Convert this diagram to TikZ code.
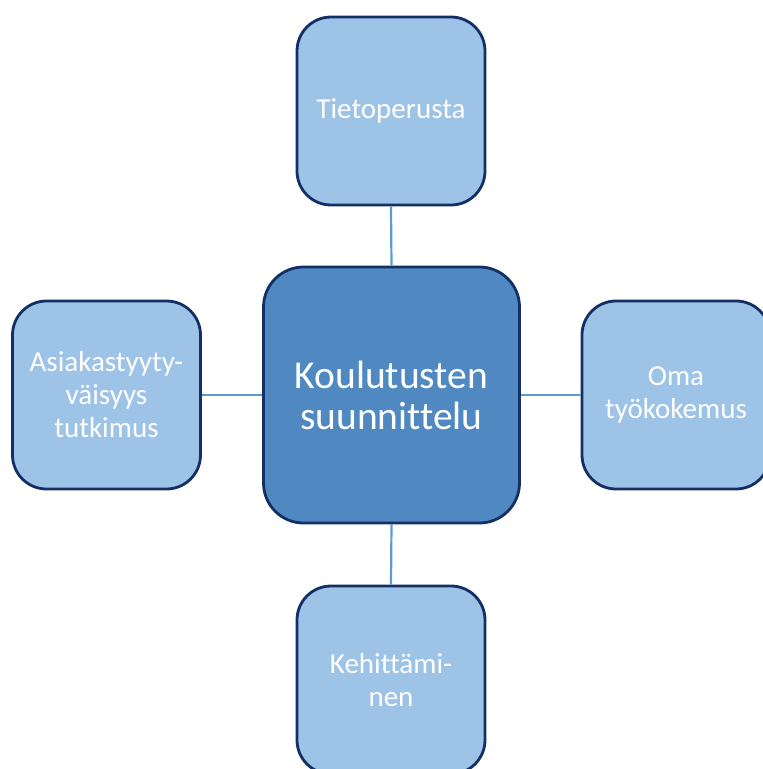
\documentclass[tikz,border=0pt]{standalone}
\usepackage{fontspec}
\setmainfont{Carlito}[Ligatures=NoCommon]
\definecolor{vaalea}{HTML}{9DC3E6}
\definecolor{keski}{HTML}{5089C1}
\definecolor{kehys}{HTML}{132F66}
\definecolor{viiva}{HTML}{5B9BD5}
\tikzset{
  kasti/.style={draw=kehys, line width=2.8pt, rounded corners=34pt, fill=vaalea,
    text=white, align=center, minimum width=188pt, minimum height=188pt,
    font=\fontsize{29}{33}\selectfont},
  keskikasti/.style={kasti, fill=keski, rounded corners=40pt,
    minimum width=256pt, minimum height=256pt, font=\fontsize{39.5}{41}\selectfont},
  yhteys/.style={draw=viiva, line width=2.2pt}
}
\begin{document}
\begin{tikzpicture}[x=1pt,y=-1pt]
\useasboundingbox (0,0) rectangle (763,769);

% Keskimmainen laatikko
\node[keskikasti] (suunnittelu) at (391.5,395) {Koulutusten\\suunnittelu};

% Ympaerillae olevat laatikot
\node[kasti] (tieto) at (391,111) {Tietoperusta};
\node[kasti] (asiakas) at (106.5,395) {Asiakastyyty-\\väisyys\\tutkimus};
\node[kasti] (oma) at (676,395) {Oma\\työkokemus};
\node[kasti] (kehitys) at (391,680) {Kehittämi-\\nen};

% Yhteydet
\draw[yhteys] (tieto.south) -- (suunnittelu.north);
\draw[yhteys] (asiakas.east) -- (suunnittelu.west);
\draw[yhteys] (suunnittelu.east) -- (oma.west);
\draw[yhteys] (suunnittelu.south) -- (kehitys.north);
\end{tikzpicture}
\end{document}
